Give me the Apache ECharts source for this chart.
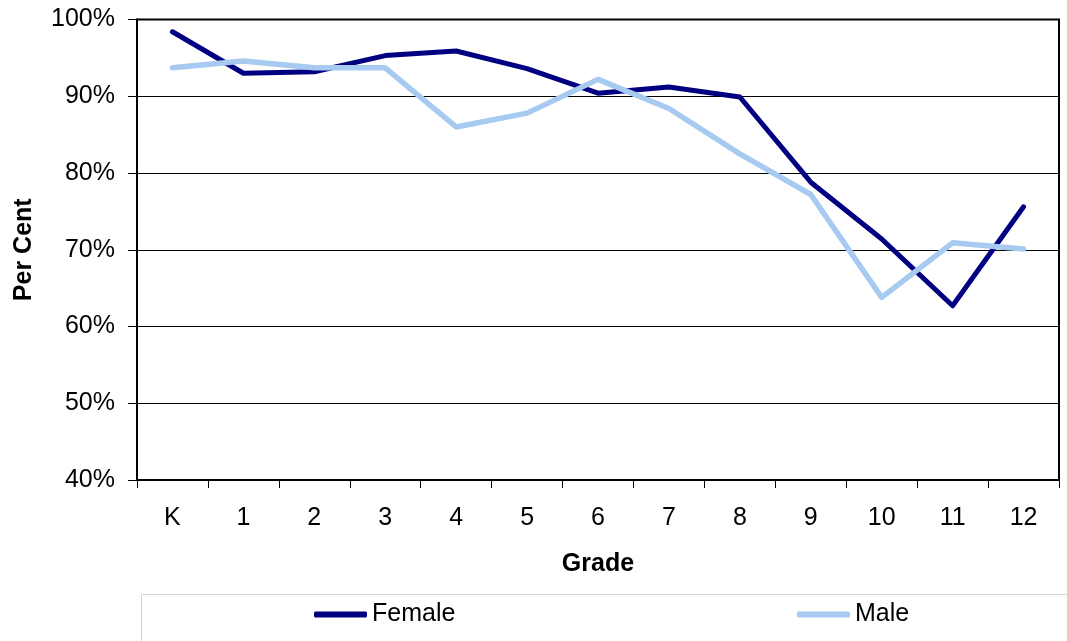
<!DOCTYPE html>
<html>
<head>
<meta charset="utf-8">
<script src="https://cdn.jsdelivr.net/npm/echarts@6/dist/echarts.min.js"></script>
<style>html,body{margin:0;padding:0;background:#fff;}#c{width:1067px;height:641px;}</style>
</head>
<body>
<div id="c"></div>
<script>
const grades = ['K','1','2','3','4','5','6','7','8','9','10','11','12'];
const female = [98.4, 93.0, 93.2, 95.3, 95.9, 93.6, 90.4, 91.2, 89.9, 78.8, 71.4, 62.7, 75.6];
const male = [93.7, 94.6, 93.7, 93.7, 86.0, 87.8, 92.2, 88.4, 82.5, 77.2, 63.8, 70.9, 70.1];
const yTicks = {min: 40, max: 100, interval: 10};

const chart = echarts.init(document.getElementById('c'));
const font = 'Liberation Sans, Arial, sans-serif';
chart.setOption({
  animation: false,
  backgroundColor: '#fff',
  graphic: [{
    type: 'rect', silent: true, z: -1,
    shape: {x: 141.5, y: 594.5, width: 1000, height: 100},
    style: {fill: '#fff', stroke: '#d4d4d4', lineWidth: 1}
  }],
  grid: {left: 137, right: 8, top: 19.5, bottom: 161, show: true, borderColor: '#000', borderWidth: 2, backgroundColor: '#fff'},
  legend: [{
    data: ['Female'], left: 314, top: 602, padding: 0, itemWidth: 53, itemHeight: 6, itemGap: 5,
    icon: 'roundRect',
    textStyle: {fontFamily: font, fontSize: 25, color: '#000'}
  }, {
    data: ['Male'], left: 797, top: 602, padding: 0, itemWidth: 53, itemHeight: 6, itemGap: 5,
    icon: 'roundRect',
    textStyle: {fontFamily: font, fontSize: 25, color: '#000'}
  }],
  xAxis: {
    type: 'category', data: grades, boundaryGap: true,
    name: 'Grade', nameLocation: 'middle', nameGap: 72,
    nameTextStyle: {fontFamily: font, fontSize: 25, fontWeight: 'bold', color: '#000'},
    axisLine: {lineStyle: {color: '#000', width: 2}},
    axisTick: {show: true, length: 8, alignWithLabel: false, lineStyle: {color: '#000', width: 1}},
    axisLabel: {fontFamily: font, fontSize: 25, color: '#000', margin: 26, interval: 0},
    splitLine: {show: false}
  },
  yAxis: {
    type: 'value', min: yTicks.min, max: yTicks.max, interval: yTicks.interval,
    name: 'Per Cent', nameLocation: 'middle', nameGap: 100, nameRotate: 90,
    nameTextStyle: {fontFamily: font, fontSize: 25, fontWeight: 'bold', color: '#000'},
    axisLine: {show: true, lineStyle: {color: '#000', width: 2}},
    axisTick: {show: true, length: 9, lineStyle: {color: '#000', width: 1}},
    axisLabel: {fontFamily: font, fontSize: 25, color: '#000', margin: 22, formatter: '{value}%'},
    splitLine: {show: true, lineStyle: {color: '#000', width: 1}}
  },
  series: [{
    name: 'Female', type: 'line', data: female, showSymbol: false, symbol: 'none',
    lineStyle: {color: '#000080', width: 5, cap: 'round', join: 'round'},
    itemStyle: {color: '#000080'}
  }, {
    name: 'Male', type: 'line', data: male, showSymbol: false, symbol: 'none',
    lineStyle: {color: '#A6CAF0', width: 5.5, cap: 'round', join: 'round'},
    itemStyle: {color: '#A6CAF0'}
  }]
});
</script>
</body>
</html>
